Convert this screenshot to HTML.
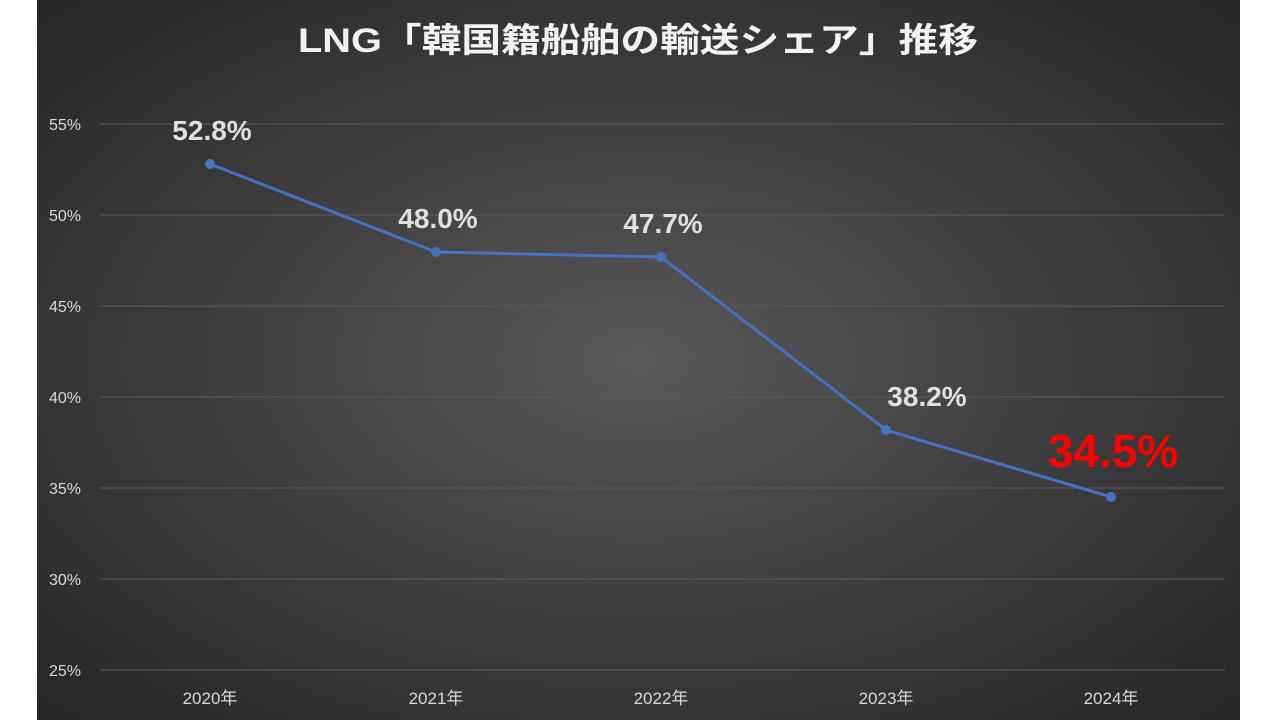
<!DOCTYPE html>
<html><head><meta charset="utf-8"><style>
body{margin:0;width:1280px;height:720px;background:#fff;overflow:hidden}
.c{position:absolute;left:37px;top:0;width:1203px;height:720px;background:radial-gradient(ellipse 70% 70% at 50% 50%,#585858 0%,#3e3e3e 50%,#262626 100%)}
svg{position:absolute;left:0;top:0}
</style></head><body>
<div class="c"></div>
<svg width="1280" height="720" font-family="'Liberation Sans','Noto Sans CJK JP',sans-serif">
<text x="298" y="52" font-size="34" font-weight="bold" fill="#f2f2f2" textLength="680" lengthAdjust="spacingAndGlyphs">LNG「韓国籍船舶の輸送シェア」推移</text>
<g stroke="#5a5a5a" stroke-width="1">
<line x1="100" x2="1225" y1="124" y2="124"/><line x1="100" x2="1225" y1="215" y2="215"/>
<line x1="100" x2="1225" y1="306" y2="306"/><line x1="100" x2="1225" y1="397" y2="397"/>
<line x1="100" x2="1225" y1="488" y2="488"/><line x1="100" x2="1225" y1="579" y2="579"/>
<line x1="100" x2="1225" y1="670" y2="670"/></g>
<g fill="#d9d9d9" font-size="16" text-anchor="end">
<text x="81" y="130">55%</text><text x="81" y="221">50%</text><text x="81" y="312">45%</text>
<text x="81" y="403">40%</text><text x="81" y="494">35%</text><text x="81" y="585">30%</text><text x="81" y="676">25%</text></g>
<g fill="#d9d9d9" font-size="17" text-anchor="middle">
<text x="210" y="704">2020年</text><text x="436" y="704">2021年</text><text x="661" y="704">2022年</text>
<text x="886" y="704">2023年</text><text x="1111" y="704">2024年</text></g>
<polyline points="210,164 436,252 661,257 886,430 1111,497" fill="none" stroke="#4472c4" stroke-width="3"/>
<g fill="#4472c4"><circle cx="210" cy="164" r="5"/><circle cx="436" cy="252" r="5"/><circle cx="661" cy="257" r="5"/><circle cx="886" cy="430" r="5"/><circle cx="1111" cy="497" r="5"/></g>
<g fill="#e0e0e0" font-size="28" font-weight="bold" text-anchor="middle">
<text x="212" y="140">52.8%</text><text x="438" y="228">48.0%</text><text x="663" y="233">47.7%</text><text x="927" y="406">38.2%</text></g>
<text x="1113" y="467" text-anchor="middle" font-size="46" font-weight="bold" fill="#ff0000">34.5%</text>
</svg>
</body></html>
